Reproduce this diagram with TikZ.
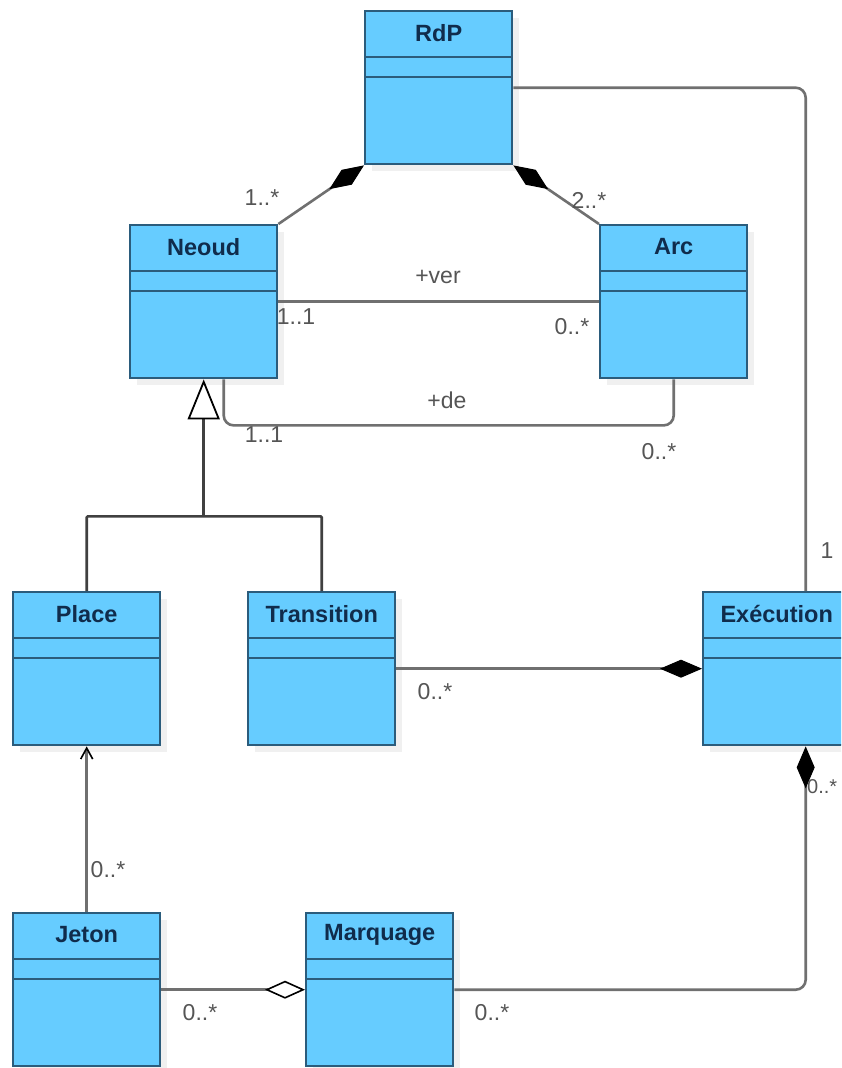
\documentclass[tikz,border=0pt]{standalone}
\usepackage{fontspec}
\setmainfont{Liberation Sans}
\usetikzlibrary{arrows.meta}
\definecolor{boxfill}{HTML}{66CCFF}
\definecolor{boxline}{HTML}{2B5C7C}
\definecolor{titlec}{HTML}{102C4C}
\definecolor{linec}{HTML}{707070}
\definecolor{genc}{HTML}{404040}
\definecolor{labc}{HTML}{555555}
\definecolor{shadowc}{HTML}{F0F0F0}
\tikzset{
 cls/.style={rectangle, draw=boxline, fill=boxfill, line width=2.4pt, minimum width=147pt, minimum height=153pt, inner sep=0pt, anchor=north west},
 ttl/.style={font=\fontsize{23.5}{26}\selectfont\bfseries, text=titlec, inner sep=0pt},
 sepl/.style={draw=boxline, line width=2.4pt},
 conn/.style={draw=linec, line width=2.6pt},
 genline/.style={draw=genc, line width=2.6pt},
 lab/.style={font=\fontsize{23}{26}\selectfont, text=labc, inner sep=0pt},
 compend/.style={-{Diamond[length=42pt,width=18pt,color=black,fill=black,line width=1pt]}},
 compstart/.style={{Diamond[length=42pt,width=18pt,color=black,fill=black,line width=1pt]}-},
 aggend/.style={-{Diamond[open,length=40pt,width=18pt,color=black,fill=white,line width=1.6pt]}},
 genend/.style={-{Triangle[open,length=40pt,width=32pt,color=black,fill=white,line width=1.8pt]}},
 navend/.style={-{Straight Barb[length=11pt,width=12pt,color=black,line width=1.6pt]}},
}
\newcommand\umlbox[4]{%
 \fill[shadowc] (#2+8,#3+8) rectangle ++(147,153);
 \node[cls] (#1) at (#2,#3) {};
 \node[ttl] at ([yshift=-23pt]#1.north) {#4};
 \draw[sepl] ([yshift=-47pt]#1.north west) -- ([yshift=-47pt]#1.north east);
 \draw[sepl] ([yshift=-67pt]#1.north west) -- ([yshift=-67pt]#1.north east);
}
\begin{document}
\begin{tikzpicture}[x=1pt,y=-1pt]
\useasboundingbox (0,0) rectangle (841,1068);
\clip (0,0) rectangle (841,1068);
\fill[white] (0,0) rectangle (841,1068);

\umlbox{rdp}{364}{10}{RdP}
\umlbox{neoud}{129}{224}{Neoud}
\umlbox{arc}{599}{224}{Arc}
\umlbox{place}{12}{591}{Place}
\umlbox{transition}{247}{591}{Transition}
\umlbox{exec}{702}{591}{Exécution}
\umlbox{jeton}{12}{912}{Jeton}
\umlbox{marquage}{305}{912}{Marquage}

% compositions with RdP
\draw[conn,compend] (neoud.north east) -- (rdp.south west);
\draw[conn,compend] (arc.north west) -- (rdp.south east);

% +ver
\draw[conn] (neoud.east) -- (arc.west);
% +de
\draw[conn,rounded corners=10pt] ([xshift=20pt]neoud.south) -- ++(0,46) -| (arc.south);

% generalization
\coordinate (gj) at ([yshift=-137pt]neoud.south);
\draw[genline,rounded corners=1pt] (place.north) |- (gj) -| (transition.north);
\draw[genline,genend] (gj) -- (neoud.south);

% RdP - Execution
\draw[conn,rounded corners=10pt] (rdp.east) -| ([xshift=29pt]exec.north);

% Transition - Execution
\draw[conn,compend] (transition.east) -- (exec.west);

% Execution - Marquage
\draw[conn,compstart,rounded corners=10pt] ([xshift=29pt]exec.south) |- (marquage.east);

% Jeton - Marquage
\draw[conn,aggend] (jeton.east) -- (marquage.west);

% Jeton - Place
\draw[conn,navend] (jeton.north) -- (place.south);

% multiplicities and roles
\node[lab] (m1) at (262,198) {1..*};
\node[lab] (m2) at (589,200) {2..*};
\node[lab] (rv) at (438,277) {+ver};
\node[lab] (m3) at (296,317) {1..1};
\node[lab] (m4) at (572,327) {0..*};
\node[lab] (rd) at (447,400) {+de};
\node[lab] (m5) at (264,435) {1..1};
\node[lab] (m6) at (659,452) {0..*};
\node[lab] (m7) at (827,551) {1};
\node[lab] (m8) at (435,692) {0..*};
\node[lab,anchor=west,font=\fontsize{20}{24}\selectfont] (m9) at (807,787) {0..*};
\node[lab] (m10) at (108,870) {0..*};
\node[lab] (m11) at (200,1013) {0..*};
\node[lab] (m12) at (492,1013) {0..*};
\end{tikzpicture}
\end{document}
